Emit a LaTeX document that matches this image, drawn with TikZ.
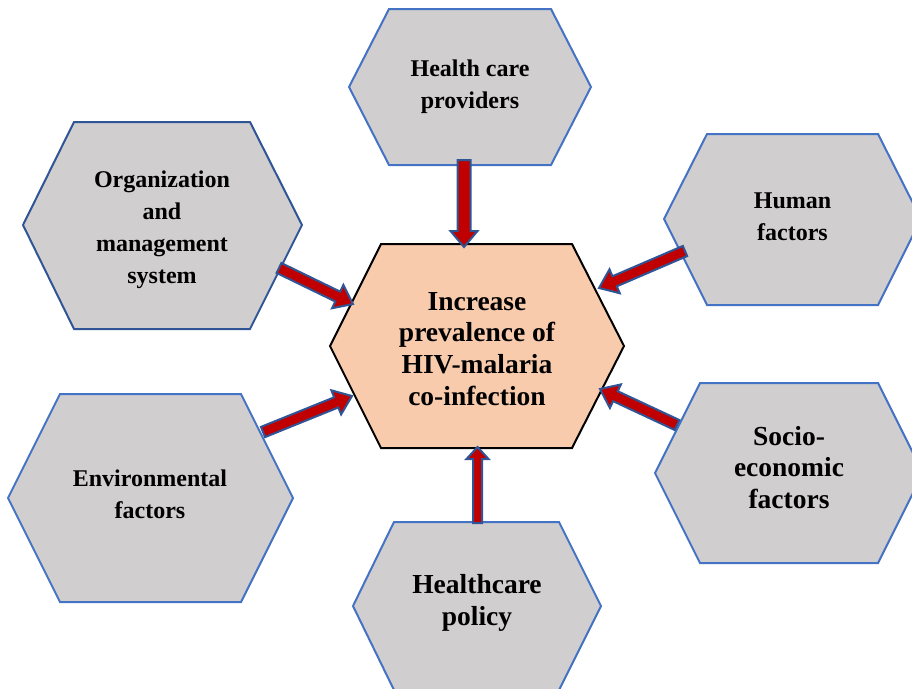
\documentclass[tikz,border=0pt]{standalone}
\usepackage{fontspec}
\setmainfont{Liberation Serif}
\usetikzlibrary{calc}
\definecolor{hexgray}{HTML}{D0CECE}
\definecolor{hexblue}{HTML}{4472C4}
\definecolor{hexdark}{HTML}{2F5597}
\definecolor{centerfill}{HTML}{F8CBAD}
\definecolor{arrred}{HTML}{C00000}
\definecolor{arrblue}{HTML}{2F5597}
\tikzset{
  hexbox/.style={draw=hexblue, fill=hexgray, line width=2pt, line join=miter},
  hexcenter/.style={draw=black, fill=centerfill, line width=2pt, line join=miter},
  lbl/.style={anchor=base, inner sep=0pt, font=\bfseries\fontsize{24}{32}\selectfont},
  lblbig/.style={anchor=base, inner sep=0pt, font=\bfseries\fontsize{27.5}{31.7}\selectfont},
  fatarr/.style={draw=arrblue, fill=arrred, line width=2pt, line join=miter}
}
\newcommand\fatarrow[5]{%
  \path ($(#2)!#5!(#1)$) coordinate (hb);
  \draw[fatarr] ($(#1)!#3!90:(#2)$) -- ($(hb)!#3!90:(#2)$) -- ($(hb)!#4!90:(#2)$)
     -- (#2) -- ($(hb)!#4!-90:(#2)$) -- ($(hb)!#3!-90:(#2)$) -- ($(#1)!#3!-90:(#2)$) -- cycle;
}
\begin{document}
\begin{tikzpicture}[x=1pt,y=-1pt]
\useasboundingbox (0,0) rectangle (912,688);
% hexagons
\draw[hexbox] (349,87) -- (389,9) -- (551,9) -- (591,87) -- (551,165) -- (389,165) -- cycle;
\draw[hexbox, draw=hexdark] (23,225) -- (74,122) -- (250,122) -- (302,225) -- (250,329) -- (74,329) -- cycle;
\draw[hexbox] (664,219) -- (707,134) -- (878,134) -- (921,219) -- (878,305) -- (707,305) -- cycle;
\draw[hexbox] (8,498) -- (60,394) -- (241,394) -- (293,498) -- (241,602) -- (60,602) -- cycle;
\draw[hexbox] (655,473) -- (700,383) -- (878,383) -- (923,473) -- (878,563) -- (700,563) -- cycle;
\draw[hexbox] (353,606) -- (394,522) -- (559,522) -- (601,606) -- (559,690) -- (394,690) -- cycle;
\draw[hexcenter] (330,346) -- (381,244) -- (572,244) -- (624,346) -- (572,448) -- (381,448) -- cycle;
% labels
\node[lbl] (hcp) at (470,76) {\begin{tabular}[t]{@{}c@{}}Health care\\providers\end{tabular}};
\node[lbl] (org) at (162,187) {\begin{tabular}[t]{@{}c@{}}Organization\\and\\management\\system\end{tabular}};
\node[lbl] (hum) at (792.5,208) {\begin{tabular}[t]{@{}c@{}}Human\\factors\end{tabular}};
\node[lbl] (env) at (150,486) {\begin{tabular}[t]{@{}c@{}}Environmental\\factors\end{tabular}};
\node[lblbig, font=\bfseries\fontsize{27.5}{31.5}\selectfont] (soc) at (789,445) {\begin{tabular}[t]{@{}c@{}}Socio-\\economic\\factors\end{tabular}};
\node[lblbig, font=\bfseries\fontsize{27.5}{32}\selectfont] (pol) at (477,593) {\begin{tabular}[t]{@{}c@{}}Healthcare\\policy\end{tabular}};
\node[lblbig] (cen) at (477,310) {\begin{tabular}[t]{@{}c@{}}Increase\\prevalence of\\HIV-malaria\\co-infection\end{tabular}};
% arrow end points
\coordinate (hcpA) at (464,160);
\coordinate (cenT) at (464,247);
\coordinate (orgA) at (279,268);
\coordinate (cenTL) at (353,304);
\coordinate (humA) at (685,251);
\coordinate (cenTR) at (599,288);
\coordinate (envA) at (263,432);
\coordinate (cenBL) at (352,396);
\coordinate (socA) at (677,425);
\coordinate (cenBR) at (600,389);
\coordinate (polA) at (477.5,523);
\coordinate (cenB) at (477.5,447);
% arrows
\fatarrow{hcpA}{cenT}{6.5pt}{13.5pt}{16pt}
\fatarrow{orgA}{cenTL}{5.5pt}{13pt}{17pt}
\fatarrow{humA}{cenTR}{5.5pt}{13pt}{17pt}
\fatarrow{envA}{cenBL}{5.5pt}{13pt}{17pt}
\fatarrow{socA}{cenBR}{5.5pt}{13pt}{17pt}
\fatarrow{polA}{cenB}{4.5pt}{11pt}{12pt}
\end{tikzpicture}
\end{document}
